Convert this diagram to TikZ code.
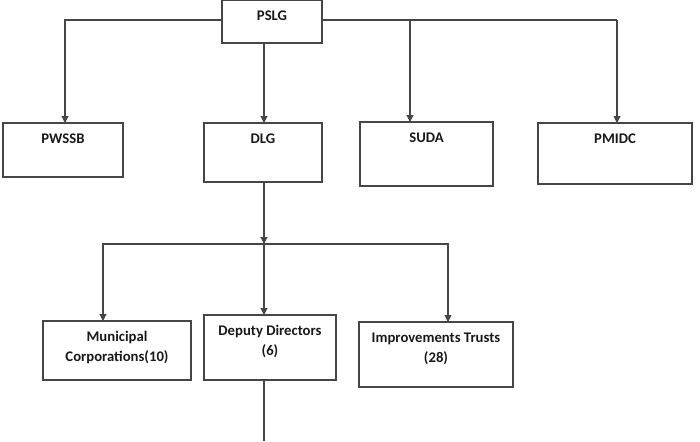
\documentclass[tikz,border=0pt]{standalone}
\usepackage{fontspec}
\setmainfont{Carlito}
\usetikzlibrary{arrows.meta}
\definecolor{ln}{RGB}{70,70,70}
\newcommand\bxt[3]{\parbox[c][#2pt][t]{#1pt}{\centering\rule{0pt}{20pt}#3\par}}
\tikzset{
  orgbox/.style={draw=ln, line width=1.1pt, fill=white, inner sep=0pt, outer sep=0pt,
    font=\fontsize{14.7}{20}\selectfont\bfseries, text=black!90},
  conn/.style={draw=ln, line width=1.1pt},
  arr/.style={conn, -{Triangle[width=7pt,length=7pt]}}
}
\begin{document}
\begin{tikzpicture}[x=1pt,y=-1pt]
\useasboundingbox (0,0) rectangle (700,441);
\node[orgbox] (PSLG)  at (272,21.8)  {\bxt{100}{42.5}{PSLG}};
\node[orgbox] (PWSSB) at (63,150)    {\bxt{120}{54}{PWSSB}};
\node[orgbox] (DLG)   at (263,152.5) {\bxt{118}{59}{DLG}};
\node[orgbox] (SUDA)  at (426.5,154) {\bxt{133}{64}{SUDA}};
\node[orgbox] (PMIDC) at (615,153.5) {\bxt{154}{61}{PMIDC}};
\node[orgbox] (MC)    at (117,350.5) {\bxt{148}{59}{Municipal\\Corporations(10)}};
\node[orgbox] (DD)    at (270,347.5) {\bxt{132}{65}{Deputy Directors\\(6)}};
\node[orgbox] (IT)    at (436,354.5) {\bxt{154}{65}{Improvements Trusts\\(28)}};
\coordinate (tl) at (65,20);
\coordinate (ts) at (410,20);
\coordinate (tr) at (617,20);
\coordinate (j)  at (264,244);
\coordinate (jl) at (103,244);
\coordinate (jr) at (448,244);
\coordinate (bot) at (264,441);
\draw[arr] (PSLG.west |- tl) -- (tl) -- (tl |- PWSSB.north);
\draw[conn] (PSLG.east |- tr) -- (tr);
\draw[arr] (ts) -- (ts |- SUDA.north);
\draw[arr] (tr) -- (tr |- PMIDC.north);
\draw[arr] (PSLG.south -| j) -- (DLG.north -| j);
\draw[arr] (DLG.south -| j) -- (j);
\draw[arr] (j) -- (jl) -- (jl |- MC.north);
\draw[arr] (j) -- (jr) -- (jr |- IT.north);
\draw[arr] (j) -- (DD.north -| j);
\draw[conn] (DD.south -| j) -- (bot);
\end{tikzpicture}
\end{document}
